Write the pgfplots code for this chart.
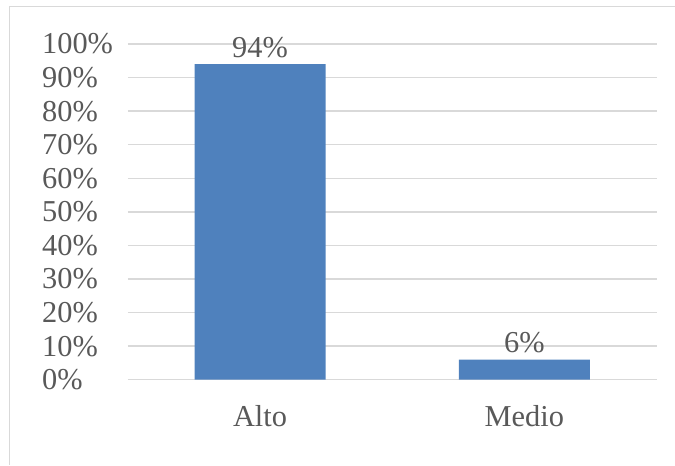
\documentclass[border=0pt]{standalone}
\usepackage{pgfplots}
\pgfplotsset{compat=1.18}
\usepackage{fontspec}
\setmainfont{Liberation Serif}
\definecolor{barblue}{HTML}{4F81BD}
\definecolor{txt}{HTML}{595959}
\definecolor{gridc}{HTML}{D9D9D9}
\begin{document}
\begin{tikzpicture}
\path (-128bp,-85bp) rectangle (547bp,380bp);
\draw[gridc, line width=1bp] (-118bp,-85bp) -- (-118bp,373bp) -- (547bp,373bp);
\begin{axis}[
  at={(0,0)}, anchor=south west,
  width=529bp, height=336bp, scale only axis,
  xmin=-0.5, xmax=1.5, ymin=0, ymax=100,
  ytick={0,10,...,100},
  yticklabels={0\%,10\%,20\%,30\%,40\%,50\%,60\%,70\%,80\%,90\%,100\%},
  xtick={0,1}, xticklabels={Alto,Medio},
  ymajorgrids, grid style={gridc, line width=1.5bp},
  axis line style={draw=none}, major tick length=0,
  tick label style={font=\fontsize{30.5}{36}\selectfont, text=txt},
  yticklabel style={anchor=west, inner sep=0pt, xshift=-86bp},
  xticklabel style={anchor=north, inner sep=0pt, yshift=-26bp},
  ybar, bar width=131bp, clip=false,
  nodes near coords, point meta=explicit symbolic,
  every node near coord/.append style={font=\fontsize{30.5}{36}\selectfont, text=txt, anchor=base, yshift=7bp},
]
\addplot[fill=barblue, draw=none] coordinates {(0,94) [94\%] (1,6) [6\%]};
\end{axis}
\end{tikzpicture}
\end{document}
